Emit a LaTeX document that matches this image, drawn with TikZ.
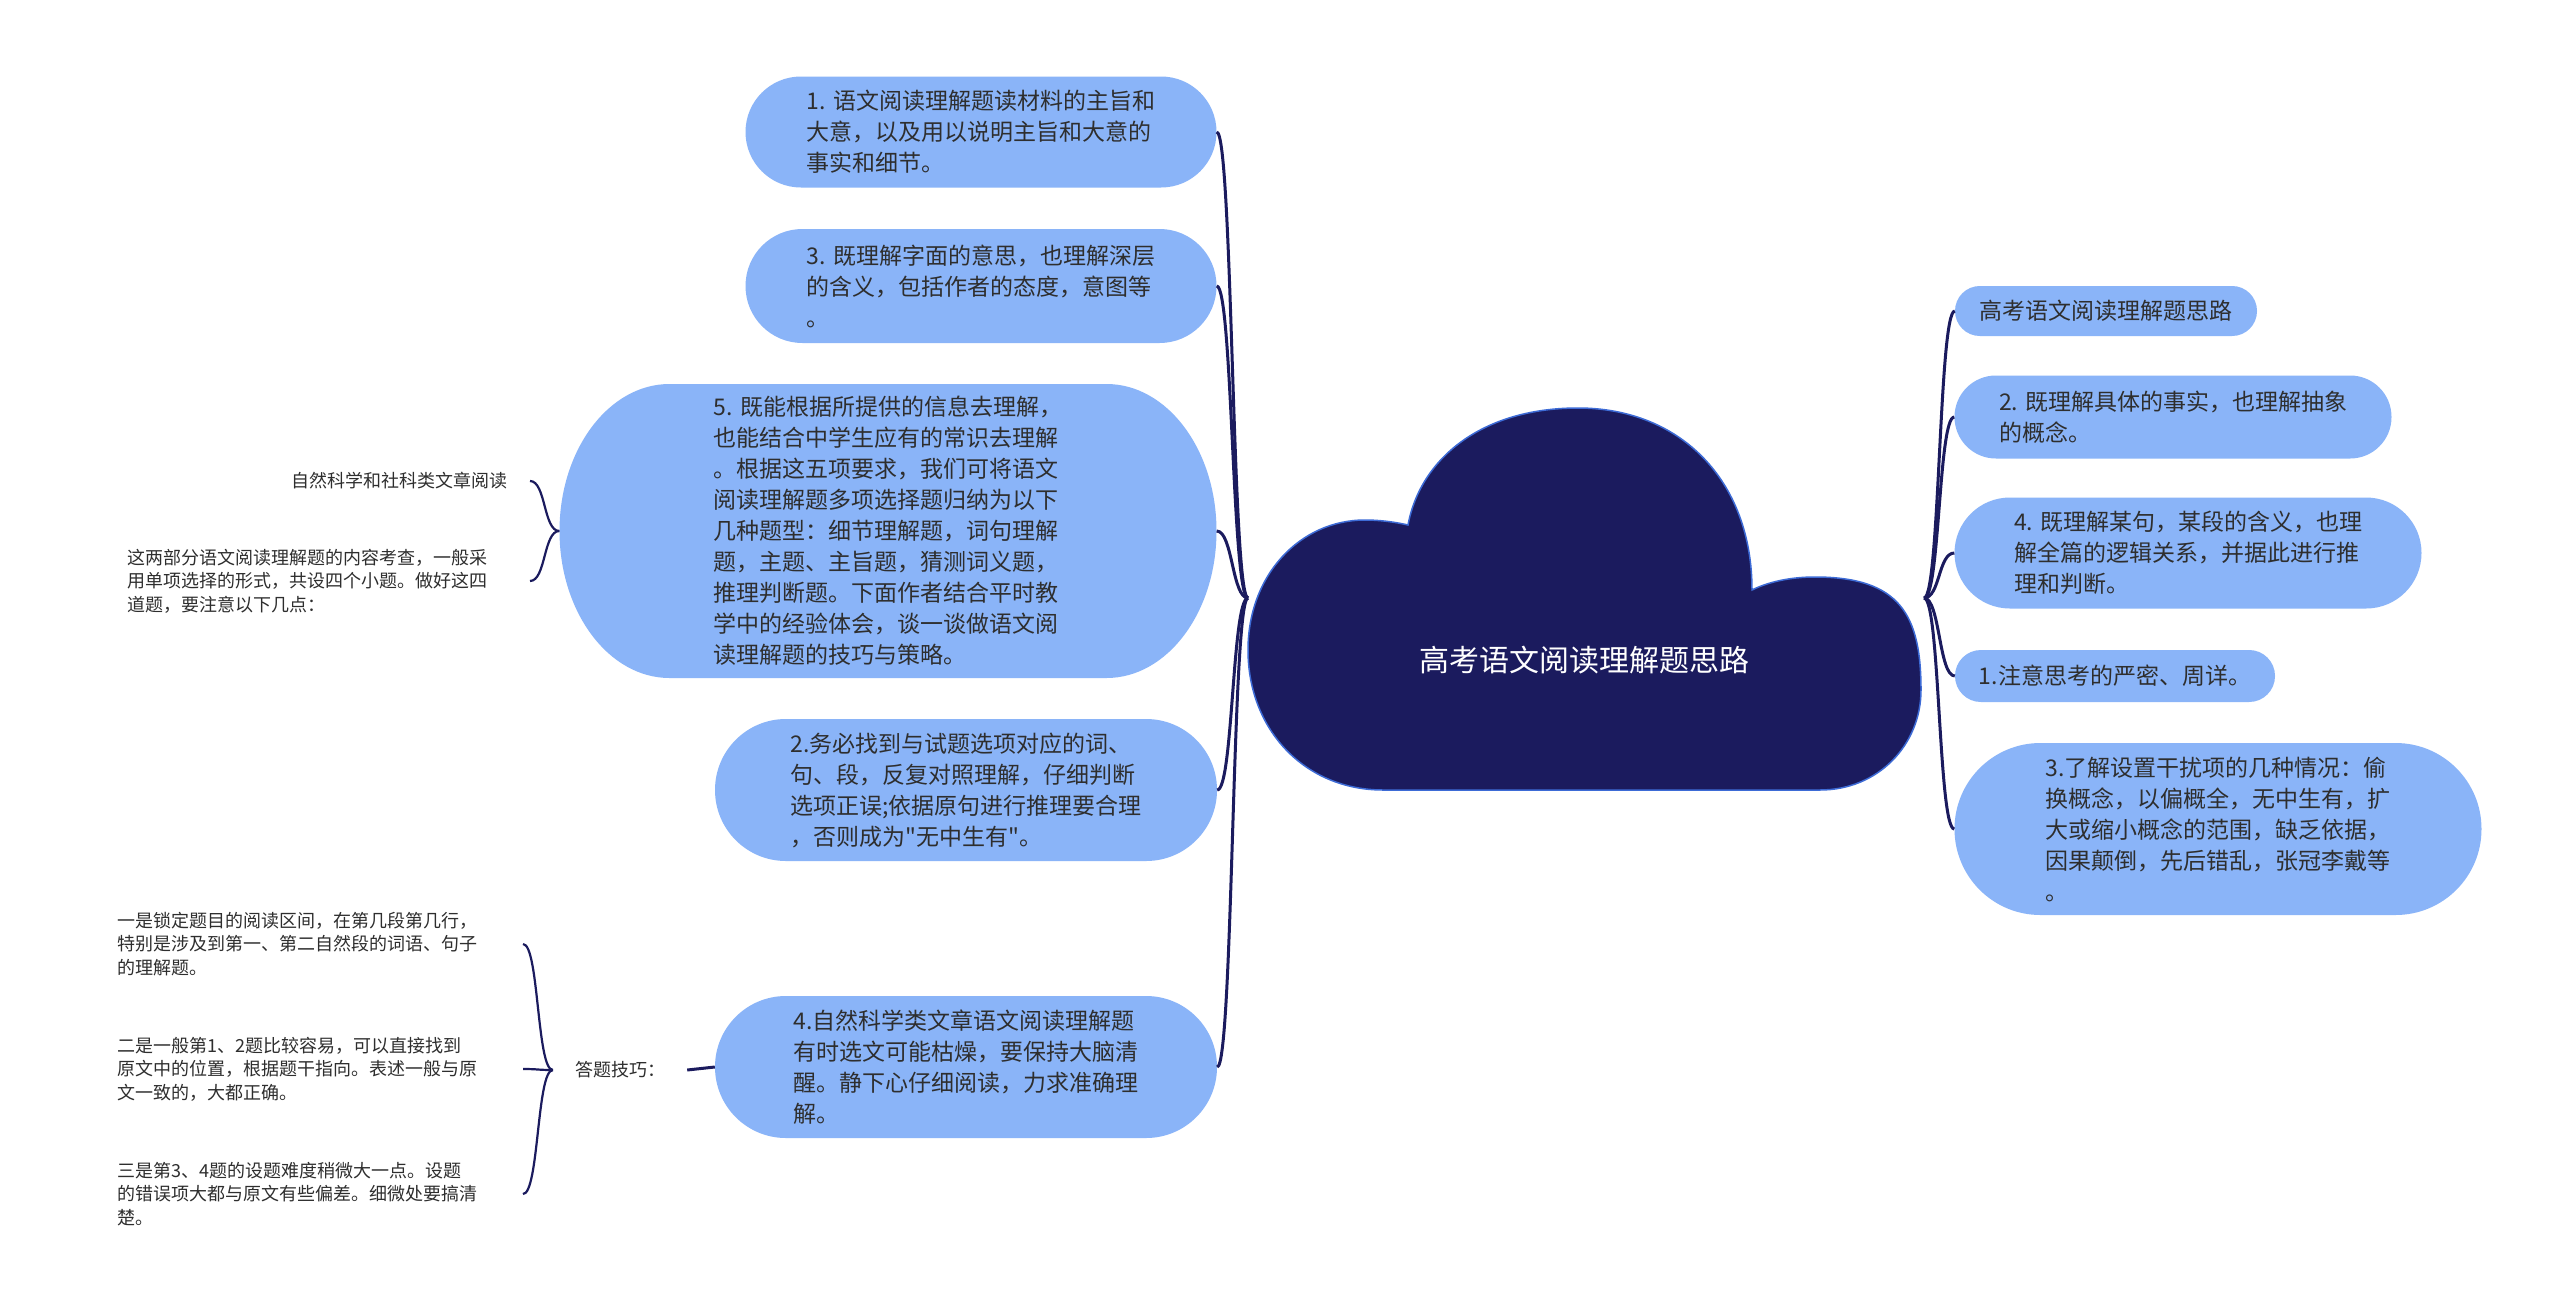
\documentclass[tikz,border=0pt]{standalone}
\usepackage{fontspec}
\newfontfamily\cjk{Noto Sans CJK SC}
\definecolor{boxblue}{HTML}{8AB4F8}
\definecolor{navy}{HTML}{1B1B5E}
\definecolor{txt}{HTML}{2E2E2E}
\definecolor{cloudedge}{HTML}{3D6BD6}
\newcommand\mainfs{\cjk\fontsize{23}{31}\selectfont}
\newcommand\leaffs{\cjk\fontsize{18}{23.5}\selectfont}
\newcommand\rootfs{\cjk\fontsize{30}{36}\selectfont}
\tikzset{
  box/.style={fill=boxblue, text=txt, font=\mainfs, align=left, inner sep=0pt, rounded corners=#1},
  leaf/.style={text=txt, font=\leaffs, align=left, inner xsep=22pt, inner ysep=4pt},
  link/.style={draw=navy, line width=3pt},
  thin link/.style={draw=navy, line width=2.2pt},
}
\begin{document}
\begin{tikzpicture}[x=1pt, y=-1pt]
\useasboundingbox (0,0) rectangle (2560,1312);
\fill[white] (0,0) rectangle (2560,1312);

% cloud
\path[fill=navy, draw=cloudedge, line width=1.5pt]
  (1383,790) -- (1820,790)
  .. controls (1878,790) and (1921,745) .. (1921,690)
  .. controls (1921,615) and (1900,577) .. (1815,577)
  .. controls (1790,577) and (1768,582) .. (1752,590)
  .. controls (1752,480) and (1680,408) .. (1578,408)
  .. controls (1480,408) and (1420,460) .. (1408,525)
  .. controls (1395,522) and (1380,520) .. (1365,520)
  .. controls (1300,520) and (1248,575) .. (1248,650)
  .. controls (1248,730) and (1305,790) .. (1383,790) -- cycle;
\node[text=white, font=\rootfs] (root) at (1584,660) {高考语文阅读理解题思路};
\coordinate (cl) at (1248,598);
\coordinate (cr) at (1924,598);

% left main nodes
\node[box=55.4pt, minimum width=471pt, minimum height=111pt] (n1) at (981,132)
  {1. 语文阅读理解题读材料的主旨和\\大意，以及用以说明主旨和大意的\\事实和细节。};
\node[box=56.9pt, minimum width=471pt, minimum height=114pt] (n3) at (981,286)
  {3. 既理解字面的意思，也理解深层\\的含义，包括作者的态度，意图等\\。};
\fill[boxblue] (669.5,384) -- (1106.5,384)
  arc[start angle=-90, end angle=90, x radius=110, y radius=147]
  -- (669.5,678)
  arc[start angle=90, end angle=270, x radius=110, y radius=147] -- cycle;
\node[text=txt, font=\mainfs, align=left, inner sep=0pt, minimum width=657pt, minimum height=294pt] (n5) at (888,531)
  {5. 既能根据所提供的信息去理解，\\也能结合中学生应有的常识去理解\\。根据这五项要求，我们可将语文\\阅读理解题多项选择题归纳为以下\\几种题型：细节理解题，词句理解\\题，主题、主旨题，猜测词义题，\\推理判断题。下面作者结合平时教\\学中的经验体会，谈一谈做语文阅\\读理解题的技巧与策略。};
\node[box=70.9pt, minimum width=502pt, minimum height=142pt] (n2) at (966,790)
  {2.务必找到与试题选项对应的词、\\句、段，反复对照理解，仔细判断\\选项正误;依据原句进行推理要合理\\，否则成为"无中生有"。};
\node[box=70.9pt, minimum width=502pt, minimum height=142pt] (n4) at (966,1067)
  {4.自然科学类文章语文阅读理解题\\有时选文可能枯燥，要保持大脑清\\醒。静下心仔细阅读，力求准确理\\解。};

% right main nodes
\node[box=24.9pt, minimum width=302pt, minimum height=50pt] (r0) at (2106,311)
  {高考语文阅读理解题思路};
\node[box=41.4pt, minimum width=437pt, minimum height=83pt] (r2) at (2173,417)
  {2. 既理解具体的事实，也理解抽象\\的概念。};
\node[box=55.4pt, minimum width=467pt, minimum height=111pt] (r4) at (2188,553)
  {4. 既理解某句，某段的含义，也理\\解全篇的逻辑关系，并据此进行推\\理和判断。};
\node[box=25.9pt, minimum width=320pt, minimum height=52pt] (r1) at (2115,676)
  {1.注意思考的严密、周详。};
\node[box=85.9pt, minimum width=527pt, minimum height=172pt] (r3) at (2218,829)
  {3.了解设置干扰项的几种情况：偷\\换概念，以偏概全，无中生有，扩\\大或缩小概念的范围，缺乏依据，\\因果颠倒，先后错乱，张冠李戴等\\。};

% leaves of n5
\node[leaf, anchor=east, align=right, text width=216pt] (L1) at (530,481) {自然科学和社科类文章阅读};
\node[leaf, anchor=east, text width=380pt] (L2) at (530,581)
  {这两部分语文阅读理解题的内容考查，一般采\\用单项选择的形式，共设四个小题。做好这四\\道题，要注意以下几点：};

% leaves of n4
\node[leaf] (tips) at (620,1070) {答题技巧：};
\node[leaf, anchor=east, text width=383pt] (c1) at (523,944)
  {一是锁定题目的阅读区间，在第几段第几行，\\特别是涉及到第一、第二自然段的词语、句子\\的理解题。};
\node[leaf, anchor=east, text width=383pt] (c2) at (523,1069)
  {二是一般第1、2题比较容易，可以直接找到\\原文中的位置，根据题干指向。表述一般与原\\文一致的，大都正确。};
\node[leaf, anchor=east, text width=383pt] (c3) at (523,1194)
  {三是第3、4题的设题难度稍微大一点。设题\\的错误项大都与原文有些偏差。细微处要搞清\\楚。};

% connectors root -> left
\foreach \n in {n1,n3,n5,n2,n4}
  \draw[link] (cl) .. controls +(-16,0) and +(16,0) .. (\n.east);
% connectors root -> right
\foreach \n in {r0,r2,r4,r1,r3}
  \draw[link] (cr) .. controls +(16,0) and +(-16,0) .. (\n.west);
% n5 -> leaves
\foreach \n in {L1,L2}
  \draw[thin link] (n5.west) .. controls +(-16,0) and +(16,0) .. (\n.east);
% n4 -> tips -> leaves
\draw[link] (n4.west) -- (tips.east);
\foreach \n in {c1,c2,c3}
  \draw[thin link] (tips.west) .. controls +(-16,0) and +(16,0) .. (\n.east);
\end{tikzpicture}
\end{document}
